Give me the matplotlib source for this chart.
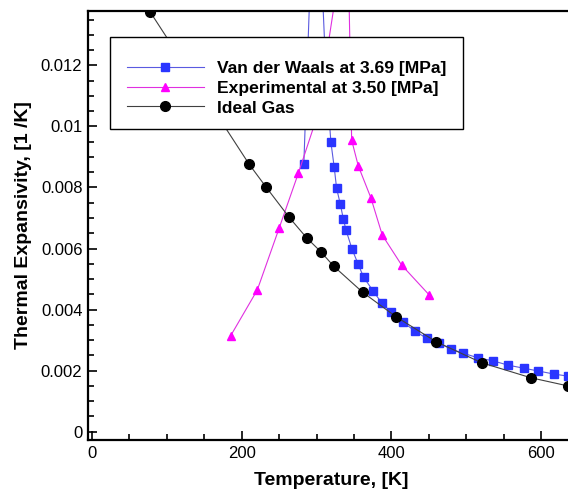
import matplotlib
matplotlib.use("Agg")
import matplotlib.pyplot as plt
from matplotlib.patches import Rectangle
from matplotlib.ticker import MultipleLocator, FuncFormatter

plt.rcParams['font.family'] = ['Liberation Sans', 'DejaVu Sans']

# Van der Waals prediction at 3.69 MPa
vdw_T = [283, 298.5, 311.2, 315, 319.2, 323.6, 326.8, 331.7, 335.7, 339.3,
         347.3, 355.7, 362.9, 375.3, 387.3, 399.8, 415.8, 431.4, 447, 463.9,
         479.5, 495.9, 516, 536, 556, 577, 596, 617, 636]
vdw_alpha = [0.00876, 0.01964, 0.0125, 0.01086, 0.00948, 0.00866, 0.00797,
             0.00746, 0.00698, 0.00661, 0.00599, 0.00548, 0.00506, 0.00462,
             0.00421, 0.00391, 0.00358, 0.00330, 0.00306, 0.00290, 0.00271,
             0.00257, 0.00242, 0.00232, 0.00218, 0.00208, 0.00199, 0.00189,
             0.00182]

# experimental data at 3.50 MPa
exp_T = [185.2, 220.8, 250.2, 275.6, 300.7, 341.4, 346.9, 355.7, 372.6,
         387.8, 413.6, 450.5]
exp_alpha = [0.00314, 0.00464, 0.00668, 0.00846, 0.01032, 0.01682, 0.00955,
             0.00871, 0.00766, 0.00644, 0.00546, 0.00448]

# ideal gas
ideal_T = [77.5, 210, 233, 263.5, 286.8, 305.5, 323, 361.5, 406, 459.5,
           520.5, 586, 636]
ideal_alpha = [0.01376, 0.00876, 0.00800, 0.00702, 0.00635, 0.00590,
               0.00542, 0.00457, 0.00377, 0.00295, 0.00226, 0.00177, 0.00150]

fig = plt.figure(figsize=(5.68, 4.91), dpi=100)
ax = fig.add_axes([0.1549, 0.1039, 0.845, 0.8743])

ax.plot(vdw_T, vdw_alpha, color='#5a5ae0', lw=0.8, marker='s', ms=5.8,
        mfc='#2a35ff', mec='#2a35ff', label='Van der Waals at 3.69 [MPa]')
ax.plot(exp_T, exp_alpha, color='#e030e0', lw=0.8, marker='^', ms=6,
        mfc='#ff00ff', mec='#ff00ff', label='Experimental at 3.50 [MPa]')
ax.plot(ideal_T, ideal_alpha, color='#404040', lw=0.8, marker='o', ms=7,
        mfc='black', mec='black', label='Ideal Gas')

ax.set_xlim(-5.3, 635.8)
ax.set_ylim(-0.00027, 0.01379)

ax.xaxis.set_major_locator(MultipleLocator(200))
ax.xaxis.set_minor_locator(MultipleLocator(50))
ax.yaxis.set_major_locator(MultipleLocator(0.002))
ax.yaxis.set_minor_locator(MultipleLocator(0.0005))
ax.yaxis.set_major_formatter(FuncFormatter(lambda v, p: '%g' % round(v, 6)))

ax.tick_params(which='both', direction='in', top=False, right=False,
               labelsize=12, width=1.2, pad=4)
ax.tick_params(which='major', length=6.5)
ax.tick_params(which='minor', length=4.3)

for side in ['left', 'bottom', 'top']:
    ax.spines[side].set_linewidth(1.6)
ax.spines['right'].set_visible(False)

ax.set_xlabel('Temperature, [K]', fontsize=14, fontweight='bold')
ax.set_ylabel('Thermal Expansivity, [1 /K]', fontsize=14, fontweight='bold')
ax.xaxis.set_label_coords(0.506, -0.0745)
ax.yaxis.set_label_coords(-0.1167, 0.5)

# legend box drawn separately so the padding can be uneven
box = Rectangle((0.1937, 0.7367), 0.6215, 0.1874, transform=fig.transFigure,
                facecolor='white', edgecolor='black', lw=1.0, zorder=4,
                clip_on=False)
ax.add_patch(box)
leg = ax.legend(loc='upper left', bbox_to_anchor=(0.223, 0.8756),
                bbox_transform=fig.transFigure, frameon=False, borderpad=0,
                borderaxespad=0, handlelength=4.4, handletextpad=0.75,
                labelspacing=0.25, prop={'weight': 'bold', 'size': 12.6})
leg.set_zorder(5)

fig.savefig('out.png', dpi=100)
